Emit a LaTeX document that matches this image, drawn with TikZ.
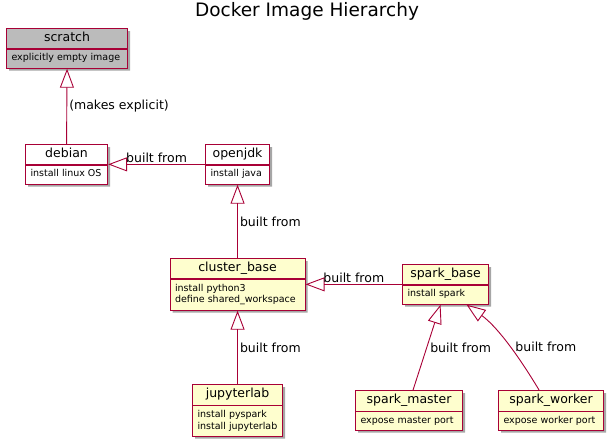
\documentclass[tikz,border=0pt]{standalone}
\usepackage{fontspec}
\setmainfont{DejaVu Sans}
\usetikzlibrary{arrows.meta, positioning, shapes.multipart, shadows}

\definecolor{umlred}{HTML}{A80036}
\definecolor{umlyellow}{HTML}{FEFECE}
\definecolor{umlgray}{HTML}{BBBBBB}

\newcommand{\hdfont}{\fontsize{12.5}{13}\selectfont}
\newcommand{\bdfont}{\fontsize{9.5}{12}\selectfont}

\tikzset{
  obj/.style={rectangle split, rectangle split parts=2, draw=umlred, line width=1.1pt,
    fill=umlyellow, anchor=north west, inner xsep=5pt, inner ysep=3pt,
    rectangle split part align={center,left},
    drop shadow={shadow xshift=2.5pt, shadow yshift=-2.5pt, opacity=0.35, fill=black}},
  inherit/.style={draw=umlred, line width=0.9pt, -{Triangle[open, length=19pt, width=14pt]}},
  lbl/.style={font=\hdfont, inner sep=1pt}
}

\begin{document}
\begin{tikzpicture}[x=1pt, y=-1pt]
  \useasboundingbox (0,0) rectangle (613,444);

  \node (title) at (307,11) {\fontsize{18.5}{20}\selectfont Docker Image Hierarchy};

  % the images
  \node[obj, fill=umlgray, minimum width=121pt] (scratch) at (6,28)
    {\hdfont\strut scratch \nodepart{two} \bdfont\strut explicitly empty image};
  \node[obj, fill=white, minimum width=82pt] (debian) at (25,144)
    {\hdfont\strut debian \nodepart{two} \bdfont\strut install linux OS};
  \node[obj, fill=white, minimum width=64pt] (openjdk) at (205,144)
    {\hdfont\strut openjdk \nodepart{two} \bdfont\strut install java};
  \node[obj, minimum width=135pt] (clusterbase) at (169.5,258)
    {\hdfont\strut cluster\_base \nodepart{two} \bdfont\begin{tabular}{@{}l@{}}install python3\\define shared\_workspace\end{tabular}};
  \node[obj, minimum width=86pt] (sparkbase) at (402,264)
    {\hdfont\strut spark\_base \nodepart{two} \bdfont\strut install spark};
  \node[obj, minimum width=90pt] (jupyterlab) at (192,384)
    {\hdfont\strut jupyterlab \nodepart{two} \bdfont\begin{tabular}{@{}l@{}}install pyspark\\install jupyterlab\end{tabular}};
  \node[obj, minimum width=107pt] (sparkmaster) at (355,390)
    {\hdfont\strut spark\_master \nodepart{two} \bdfont\strut expose master port};
  \node[obj, minimum width=105pt] (sparkworker) at (498,390)
    {\hdfont\strut spark\_worker \nodepart{two} \bdfont\strut expose worker port};

  % the links
  \draw[inherit] (debian.north) -- (scratch.south)
    node[lbl, midway, right, xshift=1pt] {(makes explicit)};
  \draw[inherit] (openjdk.west) -- (debian.east)
    node[lbl, midway, above] {built from};
  \draw[inherit] (clusterbase.north) -- (openjdk.south)
    node[lbl, midway, right, xshift=1pt] {built from};
  \draw[inherit] (sparkbase.west) -- (clusterbase.east)
    node[lbl, midway, above] {built from};
  \draw[inherit] (jupyterlab.north) -- (clusterbase.south)
    node[lbl, midway, right, xshift=1pt] {built from};
  \draw[inherit] ([xshift=4pt]sparkmaster.north) -- ([xshift=-5pt]sparkbase.south)
    node[lbl, midway, right, xshift=2pt] {built from};
  \draw[inherit] ([xshift=-12pt]sparkworker.north) .. controls (515,350) and (495,325) .. ([xshift=21pt]sparkbase.south)
    node[lbl, pos=0.42, right, xshift=4pt] {built from};
\end{tikzpicture}
\end{document}
